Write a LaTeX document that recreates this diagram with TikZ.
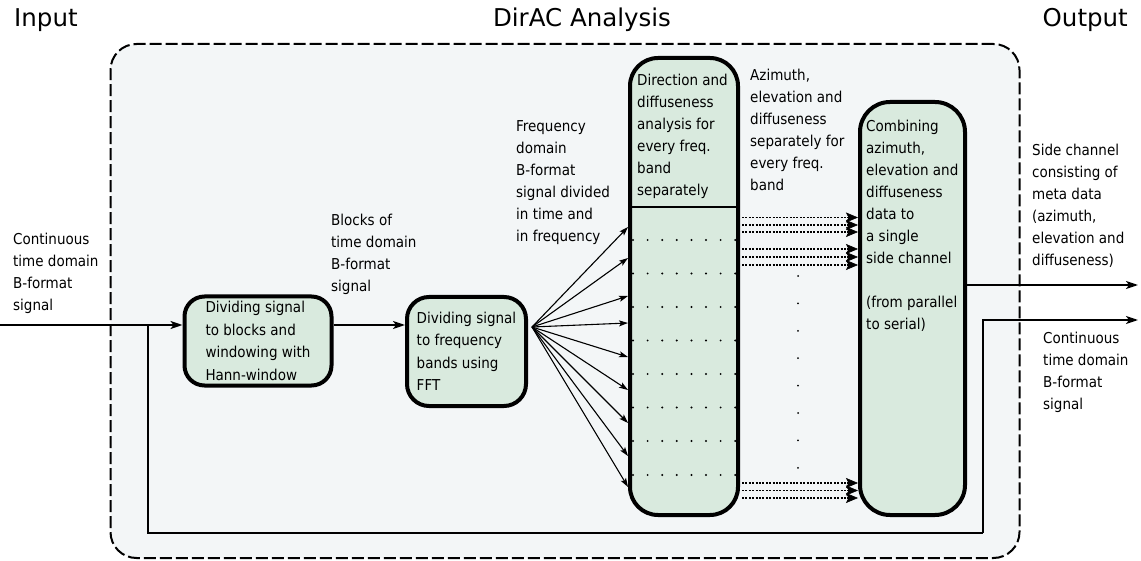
\documentclass[tikz,border=0pt]{standalone}
\usepackage{fontspec}
\setmainfont{DejaVu Sans}
\newfontfamily\condfont{DejaVu Sans Condensed}
\usetikzlibrary{arrows.meta}
\definecolor{boxfill}{RGB}{217,234,222}
\definecolor{framefill}{RGB}{243,246,247}
\begin{document}
\begin{tikzpicture}[x=1pt,y=-1pt,
  ttl/.style={font=\fontsize{24.5}{28}\selectfont, inner sep=0pt},
  lbl/.style={font=\condfont\fontsize{15}{22}\selectfont, align=left, inner sep=0pt, anchor=north west},
  boxtxt/.style={font=\condfont\fontsize{15}{22.5}\selectfont, align=left},
  procbox/.style={draw, line width=4pt, fill=boxfill, rounded corners=#1, inner sep=0pt},
  procbox/.default=20pt,
  frame/.style={draw, line width=2pt, fill=framefill, dash pattern=on 12pt off 4pt, rounded corners=26pt, inner sep=0pt},
  flow/.style={line width=1.8pt, -{Stealth[length=12pt,width=8pt,inset=3pt]}},
  plain/.style={line width=1.8pt},
  fanarrow/.style={line width=1.1pt, -{Stealth[length=9pt,width=6pt,inset=2pt]}},
  metaarrow/.style={line width=1.8pt, dash pattern=on 2pt off 1.4pt, -{Stealth[length=12pt,width=10pt,inset=2.5pt,line width=0.6pt]}},
  dot/.style={circle, fill=black, inner sep=0pt, minimum size=2.2pt}
]
\useasboundingbox (0,0) rectangle (1141,561);

% headings
\node[ttl, anchor=base west] (hin) at (14,27) {Input};
\node[ttl, anchor=base] (hana) at (582,27) {DirAC Analysis};
\node[ttl, anchor=base east] (hout) at (1128,27) {Output};

% analysis frame
\node[frame, minimum width=909pt, minimum height=514pt] (frame) at (565,301) {};

% processing blocks
\node[procbox, minimum width=147pt, minimum height=89pt, boxtxt] (blk) at (258,341)
  {Dividing signal\\to blocks and\\windowing with\\Hann-window};
\node[procbox=22pt, minimum width=119pt, minimum height=109pt, boxtxt] (fft) at (466.5,351.5)
  {Dividing signal\\to frequency\\bands using\\FFT};
\node[procbox=28pt, minimum width=108pt, minimum height=457pt] (col) at (684,286.5) {};
\node[procbox=30pt, minimum width=105pt, minimum height=413pt] (comb) at (912.5,308.5) {};

% text inside the tall blocks
\node[lbl] (coltxt) at (637,74)
  {Direction and\\diffuseness\\analysis for\\every freq.\\band\\separately};
\node[lbl] (combtxt) at (866,120)
  {Combining\\azimuth,\\elevation and\\diffuseness\\data to\\a single\\side channel\\[22pt](from parallel\\to serial)};

% divider of the analysis column
\coordinate (div) at (0,207);
\draw[line width=2pt] (col.west |- div) -- (col.east |- div);

% dotted rows of frequency bands
\foreach \r in {240,273.5,307,340.5,374,407.5,441,475}{
  \foreach \k in {0,...,7}{
    \node[dot] at (633+14.6*\k,\r) {};
  }
}

% labels
\node[lbl] (lin) at (13,233) {Continuous\\time domain\\B-format\\signal};
\node[lbl] (lblk) at (331,214) {Blocks of\\time domain\\B-format\\signal};
\node[lbl] (lfreq) at (516,120) {Frequency\\domain\\B-format\\signal divided\\in time and\\in frequency};
\node[lbl] (laz) at (750,69) {Azimuth,\\elevation and\\diffuseness\\separately for\\every freq.\\band};
\node[lbl] (lside) at (1032,144) {Side channel\\consisting of\\meta data\\(azimuth,\\elevation and\\diffuseness)};
\node[lbl] (lout) at (1043,332) {Continuous\\time domain\\B-format\\signal};

% input signal and bypass
\coordinate (in) at (0,325);
\coordinate (br) at (148,325);
\coordinate (bend) at (983,533);
\coordinate (out2) at (1138,320);
\coordinate (out1) at (1138,285);
\draw[flow] (in) -- (in -| blk.west);
\draw[plain] (br) |- (bend);
\draw[flow] (bend) |- (out2);
\draw[flow] (in -| blk.east) -- (in -| fft.west);
\draw[flow] (out1 -| comb.east) -- (out1);

% fan of frequency bands
\coordinate (fan) at (532,327);
\foreach \y in {227,258,296,323,357,390,423,456,487}{
  \coordinate (t) at (0,\y);
  \draw[fanarrow] (fan) -- (col.west |- t);
}

% parameter streams
\foreach \y in {217.5,225,232,249,257,265,483,490.5,498}{
  \coordinate (s) at (742,\y);
  \draw[metaarrow] (s) -- (s -| comb.west);
}
\foreach \k in {0,...,7}{
  \node[dot, minimum size=2pt] at (798,276+27.4*\k) {};
}
\end{tikzpicture}
\end{document}
